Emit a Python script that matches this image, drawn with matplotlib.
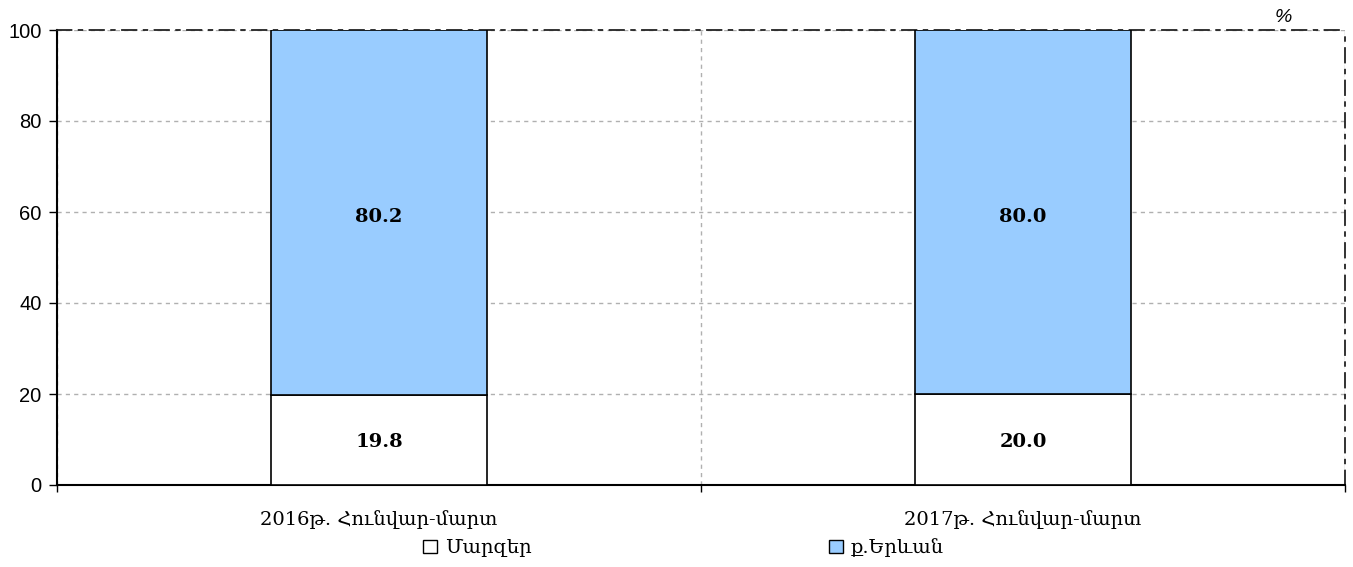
import matplotlib.pyplot as plt
from matplotlib.patches import Patch

# data
periods = ['2016թ. Հունվար-մարտ', '2017թ. Հունվար-մարտ']
regions = [19.8, 20.0]   # Մարզեր
yerevan = [80.2, 80.0]   # ք.Երևան
series_names = ['Մարզեր', 'ք.Երևան']

serif = ['DejaVu Serif']
sans = ['Liberation Sans', 'DejaVu Sans']

fig = plt.figure(figsize=(13.53, 5.67), dpi=100)
ax = fig.add_axes([57/1353, 1-485/567, 1288/1353, 455/567])

xs = [0.5, 1.5]
w = 0.334
ax.bar(xs, regions, width=w, color='white', edgecolor='black', linewidth=1.2, zorder=3)
ax.bar(xs, yerevan, width=w, bottom=regions, color='#99ccff', edgecolor='black', linewidth=1.2, zorder=3)

for x, a, b in zip(xs, regions, yerevan):
    ax.text(x, a/2 - 0.5, '%.1f' % a, ha='center', va='center', fontsize=14,
            fontweight='bold', family=serif, zorder=4)
    ax.text(x, a + b/2 - 1, '%.1f' % b, ha='center', va='center', fontsize=14,
            fontweight='bold', family=serif, zorder=4)

ax.set_xlim(0, 2)
ax.set_ylim(0, 100)
ax.set_xticks([0, 1, 2])
ax.set_xticklabels([])
ax.set_xticks(xs, minor=True)
ax.set_xticklabels(periods, minor=True, family=serif, fontsize=14)
ax.tick_params(axis='x', which='minor', length=0, pad=18)
ax.tick_params(axis='x', which='major', length=5, direction='out', width=1)
ax.set_yticks([0, 20, 40, 60, 80, 100])
ax.tick_params(axis='y', length=6, width=1, labelsize=14.5, pad=5)
for lab in ax.get_yticklabels():
    lab.set_family(sans)

ax.grid(True, which='major', color='#b0b0b0', linestyle=(0, (3, 3)), linewidth=1, zorder=0)

ax.spines['left'].set_linewidth(1.5)
ax.spines['bottom'].set_linewidth(1.5)
for s in ['top', 'right']:
    ax.spines[s].set_linestyle((0, (8, 4, 2, 4)))
    ax.spines[s].set_linewidth(1.3)
    ax.spines[s].set_color('#222222')

fig.text(1283/1353, 1-18/567, '%', fontsize=14, style='italic', family=sans,
         ha='center', va='center')

handles = [Patch(facecolor='white', edgecolor='black'),
           Patch(facecolor='#99ccff', edgecolor='black')]
fig.legend(handles, series_names, loc='center', bbox_to_anchor=(0.5 + 7/1353, 1-548/567),
           ncol=2, frameon=False, prop={'family': serif, 'size': 14},
           handlelength=0.7, handleheight=0.7, handletextpad=0.4,
           columnspacing=15.3, borderaxespad=0)

fig.savefig('out.png', dpi=100)
